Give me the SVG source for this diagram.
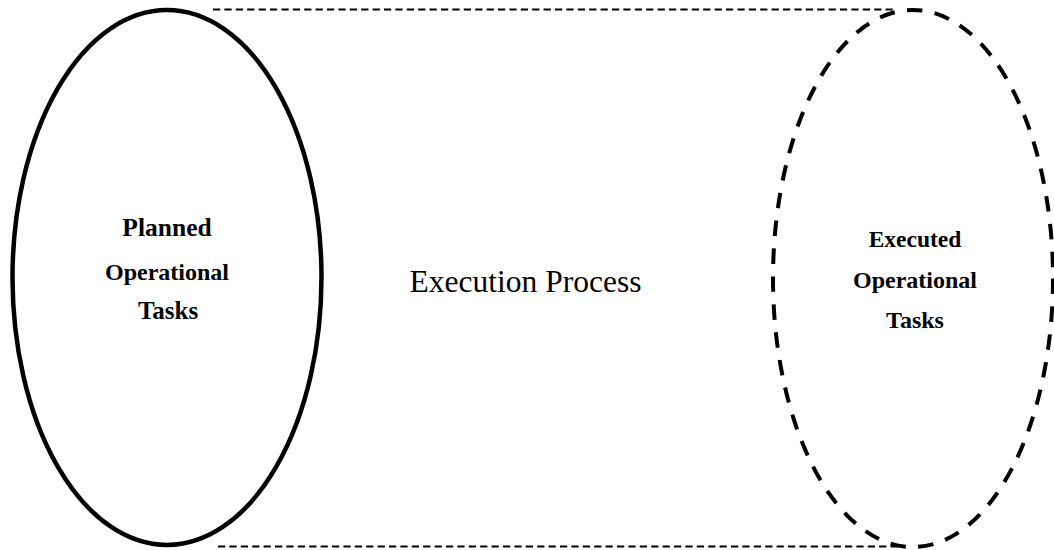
<svg xmlns="http://www.w3.org/2000/svg" width="1054" height="550" viewBox="0 0 1054 550">
  <style>
    .lbl { font-family: "Liberation Serif", "Times New Roman", Times, serif; fill: #000; text-anchor: middle; }
    .b { font-weight: bold; }
    .solid { fill: none; stroke: #000; stroke-width: 4.5; }
    .dashed { fill: none; stroke: #000; stroke-width: 4; stroke-dasharray: 15.5 12.5; }
    .guide { fill: none; stroke: #000; stroke-width: 1.9; stroke-dasharray: 7.2 4.2; }
  </style>
  <rect width="1054" height="550" fill="#fff"/>

  <!-- boundary lines joining the two ellipses -->
  <g id="connectors">
    <line class="guide" x1="213" y1="9.5" x2="896" y2="9.5"/>
    <line class="guide" x1="218" y1="546.5" x2="898" y2="546.5"/>
  </g>

  <g id="planned">
    <ellipse class="solid" cx="167" cy="277.5" rx="154.5" ry="267.5"/>
    <text class="lbl b" x="167" y="236" font-size="25.5">Planned</text>
    <text class="lbl b" x="167" y="280" font-size="24">Operational</text>
    <text class="lbl b" x="168" y="319" font-size="25">Tasks</text>
  </g>

  <g id="process">
    <text class="lbl" x="525.5" y="292" font-size="31.5">Execution Process</text>
  </g>

  <g id="executed">
    <ellipse class="dashed" cx="913" cy="278.5" rx="140" ry="268.5"/>
    <text class="lbl b" x="915" y="247" font-size="23.5">Executed</text>
    <text class="lbl b" x="915" y="288" font-size="24">Operational</text>
    <text class="lbl b" x="915" y="328" font-size="24">Tasks</text>
  </g>
</svg>
